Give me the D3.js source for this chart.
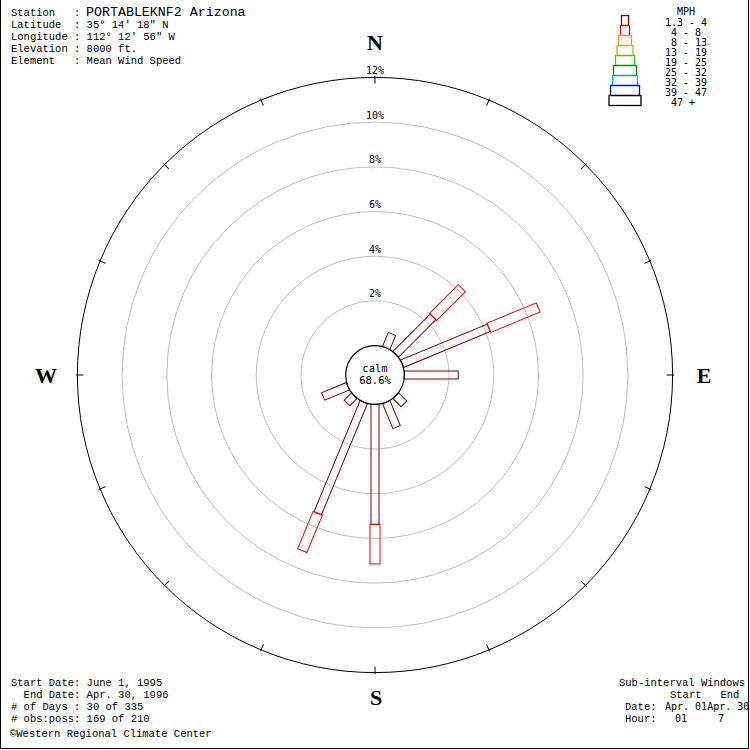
<!DOCTYPE html>
<html>
<head>
<meta charset="utf-8">
<script src="https://cdn.jsdelivr.net/npm/d3@7"></script>
<style>
  html, body { margin: 0; padding: 0; background: #fff; }
  svg { display: block; }
  .mono { font-family: "Liberation Mono", "Courier New", monospace; white-space: pre; }
  .smono { font-family: "DejaVu Sans Mono", monospace; white-space: pre; }
</style>
</head>
<body>
<svg id="chart" width="750" height="750"></svg>
<script>
// ---------- data ----------
const directions = ["N","NNE","NE","ENE","E","ESE","SE","SSE","S","SSW","SW","WSW","W","WNW","NW","NNW"];
const speedClasses = ["1.3 - 4","4 - 8","8 - 13","13 - 19","19 - 25","25 - 32","32 - 39","39 - 47","47 +"];
const speedLabels = ["1.3 - 4"," 4 - 8"," 8 - 13","13 - 19","19 - 25","25 - 32","32 - 39","39 - 47"," 47 +"];
const classColors = ["#800000","#ff0000","#f0a000","#e0a030","#00f000","#009000","#00a8f0","#0000f0","#000000"];
// percent frequency per direction, per speed class
const speed1to4 = [0, 0.68, 2.36, 4.20, 2.41, 0, 0.52, 1.21, 5.37, 5.38, 0.46, 1.20, 0, 0, 0, 0];
const speed4to8 = [0, 0,    1.82, 2.39, 0,    0, 0,    0,    1.77, 1.81, 0,    0,    0, 0, 0, 0];
const ringTicks = [2, 4, 6, 8, 10, 12];
const calmPct = "68.6%";
const headerLabels = ["Latitude  : 35° 14' 18\" N", "Longitude : 112° 12' 56\" W", "Elevation : 8000 ft.", "Element   : Mean Wind Speed"];
const footerLeft = ["Start Date: June 1, 1995", "  End Date: Apr. 30, 1996", "# of Days : 30 of 335", "# obs:poss: 169 of 210"];

// ---------- drawing ----------
const svg = d3.select("#chart");
const cx = 375, cy = 375;
const r = d3.scaleLinear().domain([0, 12]).range([29.3, 297.6]);

// frame
svg.append("path").attr("d", "M0.5,0 V748.5 H748.5 V0")
  .attr("fill", "none").attr("stroke", "#000").attr("stroke-width", 1);

const g = svg.append("g").attr("transform", `translate(${cx},${cy})`);

// rings
ringTicks.forEach(t => {
  g.append("circle").attr("r", r(t)).attr("fill", "none")
    .attr("stroke", t === 12 ? "#000" : "#c0c0c0").attr("stroke-width", 1);
  g.append("text").attr("class", "smono").attr("x", 0).attr("y", -r(t) - 3.5)
    .attr("text-anchor", "middle").attr("font-size", "10px").attr("fill", "#000")
    .text(t + "%");
});

// outer ticks
directions.forEach((d, i) => {
  const a = i * 22.5;
  g.append("line").attr("transform", `rotate(${a})`)
    .attr("x1", 0).attr("x2", 0).attr("y1", -(r(12) + 1.5)).attr("y2", -(r(12) - 6))
    .attr("stroke", "#000").attr("stroke-width", 1);
});

// bars
const classData = [speed1to4, speed4to8];
const barWidths = [8, 10];
directions.forEach((d, i) => {
  let cum = 0;
  const bg = g.append("g").attr("transform", `rotate(${i * 22.5})`);
  classData.forEach((arr, k) => {
    const v = arr[i];
    if (v > 0) {
      const r0 = r(cum), r1 = r(cum + v);
      bg.append("rect").attr("x", -barWidths[k] / 2).attr("y", -r1)
        .attr("width", barWidths[k]).attr("height", r1 - r0)
        .attr("fill", "none").attr("stroke", classColors[k]).attr("stroke-width", 1);
      cum += v;
    }
  });
});

// calm circle
g.append("circle").attr("r", r(0)).attr("fill", "#fff").attr("stroke", "#000").attr("stroke-width", 1.2);
g.append("text").attr("class", "smono").attr("x", 0).attr("y", -3.5).attr("text-anchor", "middle")
  .attr("font-size", "10.5px").text("calm");
g.append("text").attr("class", "smono").attr("x", 0).attr("y", 8.5).attr("text-anchor", "middle")
  .attr("font-size", "10.5px").text(calmPct);

// compass letters
const compass = [["N", 375, 50], ["S", 376, 705], ["W", 46, 382.5], ["E", 704, 382.5]];
compass.forEach(c => {
  svg.append("text").attr("x", c[1]).attr("y", c[2]).attr("text-anchor", "middle")
    .attr("font-family", "'Liberation Serif', 'Times New Roman', serif").attr("font-weight", "bold")
    .attr("font-size", "22px").text(c[0]);
});

// header
svg.append("text").attr("class", "mono").attr("x", 11).attr("y", 16).attr("font-size", "10.5px").text("Station   :");
svg.append("text").attr("class", "mono").attr("x", 86).attr("y", 16).attr("font-size", "13.3px").text("PORTABLEKNF2 Arizona");
headerLabels.forEach((t, i) => {
  svg.append("text").attr("class", "mono").attr("x", 11).attr("y", 27.8 + 12 * i)
    .attr("font-size", "10.5px").text(t);
});

// footer left
footerLeft.forEach((t, i) => {
  svg.append("text").attr("class", "mono").attr("x", 11).attr("y", 686 + 12 * i)
    .attr("font-size", "10.5px").text(t);
});
svg.append("text").attr("class", "mono").attr("x", 10).attr("y", 737).attr("font-size", "10.5px")
  .text("©Western Regional Climate Center");

// footer right
svg.append("text").attr("class", "mono").attr("x", 619).attr("y", 686).attr("font-size", "10.5px").text("Sub-interval Windows");
svg.append("text").attr("class", "mono").attr("x", 670).attr("y", 698).attr("font-size", "10.5px").text("Start   End");
svg.append("text").attr("class", "mono").attr("x", 625).attr("y", 710).attr("font-size", "10.5px").text("Date:");
svg.append("text").attr("class", "mono").attr("x", 625).attr("y", 722).attr("font-size", "10.5px").text("Hour:");
svg.append("text").attr("class", "smono").attr("x", 665).attr("y", 710).attr("font-size", "10px").text("Apr. 01Apr. 30");
svg.append("text").attr("class", "smono").attr("x", 675).attr("y", 722).attr("font-size", "10px").text("01");
svg.append("text").attr("class", "smono").attr("x", 718).attr("y", 722).attr("font-size", "10px").text("7");

// legend
const legendW = [7, 9, 13, 16, 19, 23, 25, 29, 32];
svg.append("text").attr("class", "smono").attr("x", 665).attr("y", 15).attr("font-size", "10px").text("  MPH");
speedClasses.forEach((s, i) => {
  svg.append("rect").attr("x", 625 - legendW[i] / 2).attr("y", 15.5 + 10 * i)
    .attr("width", legendW[i]).attr("height", 10)
    .attr("fill", "none").attr("stroke", classColors[i]).attr("stroke-width", 1.3);
  svg.append("text").attr("class", "smono").attr("x", 665).attr("y", 26 + 10 * i)
    .attr("font-size", "10px").text(speedLabels[i]);
});
</script>
</body>
</html>
